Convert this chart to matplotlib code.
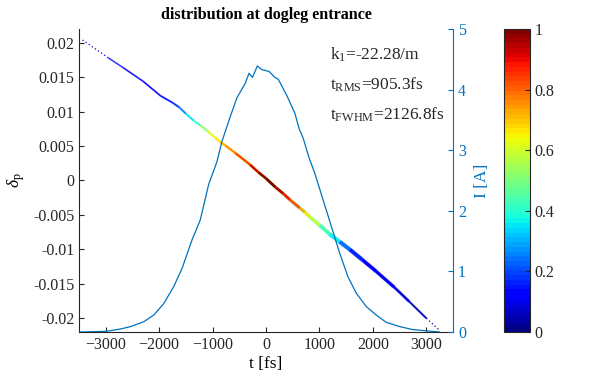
import numpy as np
import matplotlib
matplotlib.use('Agg')
import matplotlib.pyplot as plt
from matplotlib.collections import LineCollection
import matplotlib.cm as cm
import matplotlib.colors as mcolors

plt.rcParams['font.family'] = ['Liberation Serif', 'DejaVu Serif']
plt.rcParams['mathtext.fontset'] = 'custom'
plt.rcParams['mathtext.rm'] = 'Liberation Serif'
plt.rcParams['mathtext.it'] = 'Liberation Serif:italic'

# beam slice centroids: t [fs], delta_p, normalised density, spread in delta_p
t_beam = [-3434, -2950, -2677, -2300, -1975, -1750, -1621, -1500, -1354, -1230, -1100, -950,
          -857, -764, -577, -300, -143, 0, 180, 323, 447, 633, 727, 820, 1006, 1192,
          1379, 1565, 1800, 2062, 2400, 2683, 3000, 3242]
dp_beam = [0.0204, 0.0178, 0.0164, 0.0144, 0.0123, 0.0113, 0.0106, 0.0097, 0.0087, 0.0080, 0.0072, 0.0062,
           0.0056, 0.0051, 0.0040, 0.0023, 0.0012, 0.0003, -0.0010, -0.0019, -0.0028, -0.0040, -0.0046, -0.0053,
           -0.0065, -0.0078, -0.0089, -0.0100, -0.0115, -0.0132, -0.0155, -0.0176, -0.0200, -0.0217]
dens_beam = [0.10, 0.11, 0.13, 0.14, 0.15, 0.18, 0.26, 0.35, 0.42, 0.52, 0.62, 0.67,
             0.71, 0.75, 0.83, 0.91, 0.97, 1.00, 0.94, 0.88, 0.82, 0.72, 0.66, 0.58,
             0.45, 0.37, 0.24, 0.16, 0.13, 0.10, 0.08, 0.06, 0.05, 0.04]
fringe_beam = [0.10, 0.11, 0.13, 0.14, 0.15, 0.18, 0.26, 0.35, 0.42, 0.52, 0.60, 0.64,
               0.66, 0.66, 0.64, 0.62, 0.58, 0.55, 0.52, 0.48, 0.46, 0.44, 0.42, 0.40,
               0.36, 0.30, 0.20, 0.15, 0.13, 0.12, 0.10, 0.08, 0.06, 0.05]
spread_beam = [0.00008, 0.0001, 0.00014, 0.00016, 0.00018, 0.0002, 0.0002, 0.0002, 0.00021, 0.00022, 0.00024, 0.00026,
               0.00028, 0.0003, 0.00033, 0.00036, 0.00038, 0.0004, 0.0004, 0.0004, 0.0004, 0.0004, 0.00042, 0.00044,
               0.00046, 0.00048, 0.0005, 0.0005, 0.00046, 0.0004, 0.0003, 0.0002, 0.00012, 0.00008]

# current profile
t_cur = [-3480, -3000, -2720, -2534, -2286, -2100, -1913, -1727, -1571, -1385, -1230, -1075,
         -919, -826, -671, -547, -391, -317, -255, -162, -80, 56, 168, 230, 385, 540, 621,
         695, 807, 913, 1068, 1224, 1379, 1534, 1690, 1876, 2062, 2249, 2497, 2745, 2994, 3242]
I_cur = [0.0, 0.01, 0.05, 0.09, 0.17, 0.28, 0.47, 0.75, 1.05, 1.52, 1.85, 2.43,
         2.81, 3.14, 3.55, 3.86, 4.10, 4.27, 4.20, 4.39, 4.33, 4.30, 4.20, 4.17, 3.91, 3.61, 3.35,
         3.20, 2.87, 2.62, 2.18, 1.74, 1.30, 0.91, 0.64, 0.42, 0.28, 0.16, 0.09, 0.04, 0.02, 0.0]

dp_ticks = [-0.02, -0.015, -0.01, -0.005, 0, 0.005, 0.01, 0.015, 0.02]
t_ticks = [-3000, -2000, -1000, 0, 1000, 2000, 3000]
cb_ticks = [0, 0.2, 0.4, 0.6, 0.8, 1]

blue = (0, 0.447, 0.741)
dark = '#262626'
cmap = plt.get_cmap('jet', 64)

fig = plt.figure(figsize=(6.05, 3.78), dpi=100)
ax = fig.add_axes([0.1306, 0.1217, 0.6182, 0.8016])
ax.set_xlim(-3500, 3500)
ax.set_ylim(-0.022, 0.022)

# spread in delta_p -> line width in points
px_per_unit = ax.get_window_extent().height / 0.044
lw_core = np.array(spread_beam) * px_per_unit * 72 / fig.dpi
pts = np.column_stack([t_beam, dp_beam])
segs = np.stack([pts[:-1], pts[1:]], axis=1)
nseg = len(segs)
tail = [i == 0 or i == nseg - 1 for i in range(nseg)]
# sparse tails drawn dotted
styles = [(0, (1, 2)) if tl else 'solid' for tl in tail]
widths = [max(w, 0.9) if tl else w for w, tl in zip(lw_core[:-1], tail)]

fringe = LineCollection(segs[1:-1], colors=cmap(np.array(fringe_beam[1:-2])), linewidths=lw_core[1:-2] + 0.7,
                        alpha=0.5, capstyle='butt')
ax.add_collection(fringe)
core = LineCollection(segs, colors=cmap(np.array(dens_beam[:-1])), linewidths=widths,
                      linestyles=styles, capstyle='butt', joinstyle='round')
ax.add_collection(core)

ax.set_xticks(t_ticks)
ax.set_yticks(dp_ticks)
ax.set_yticklabels(['%g' % v for v in dp_ticks])
ax.tick_params(direction='in', length=3.5, width=0.8, labelsize=11.5, colors=dark)
ax.spines['top'].set_visible(False)
ax.spines['right'].set_visible(False)
for s in ['left', 'bottom']:
    ax.spines[s].set_color(dark)
ax.set_xlabel('t [fs]', fontsize=12.5, labelpad=2)
ax.set_ylabel(r'$\delta_{\rm p}$', fontsize=12.5, labelpad=4)
ax.set_title('distribution at dogleg entrance', fontsize=11.6, fontweight='bold', pad=7)

ax.text(0.672, 0.898, r'k$_1$=-22.28/m', transform=ax.transAxes, fontsize=12.5, color=dark)
ax.text(0.672, 0.799, r't$_{\rm RMS}$=905.3fs', transform=ax.transAxes, fontsize=12.5, color=dark)
ax.text(0.672, 0.700, r't$_{\rm FWHM}$=2126.8fs', transform=ax.transAxes, fontsize=12.5, color=dark)

ax2 = ax.twinx()
ax2.plot(t_cur, I_cur, color=blue, lw=0.9)
ax2.set_ylim(0, 5)
ax2.set_yticks(range(0, 6))
ax2.tick_params(direction='in', length=3.5, width=0.8, labelsize=11.5, colors=blue)
ax2.spines['right'].set_color(blue)
ax2.spines['top'].set_visible(False)
ax2.spines['left'].set_visible(False)
ax2.spines['bottom'].set_visible(False)
ax2.set_ylabel('I [A]', fontsize=12.5, color=blue, rotation=90, labelpad=6)

cax = fig.add_axes([0.833, 0.1217, 0.043, 0.8016])
sm = cm.ScalarMappable(norm=mcolors.Normalize(0, 1), cmap=cmap)
cb = fig.colorbar(sm, cax=cax, ticks=cb_ticks)
cb.ax.set_yticklabels(['%g' % v for v in cb_ticks])
cb.ax.tick_params(direction='in', length=3.5, width=0.8, labelsize=11.5, colors=dark)
cb.outline.set_edgecolor(dark)
cb.outline.set_linewidth(0.8)

fig.savefig('out.png', dpi=100)
